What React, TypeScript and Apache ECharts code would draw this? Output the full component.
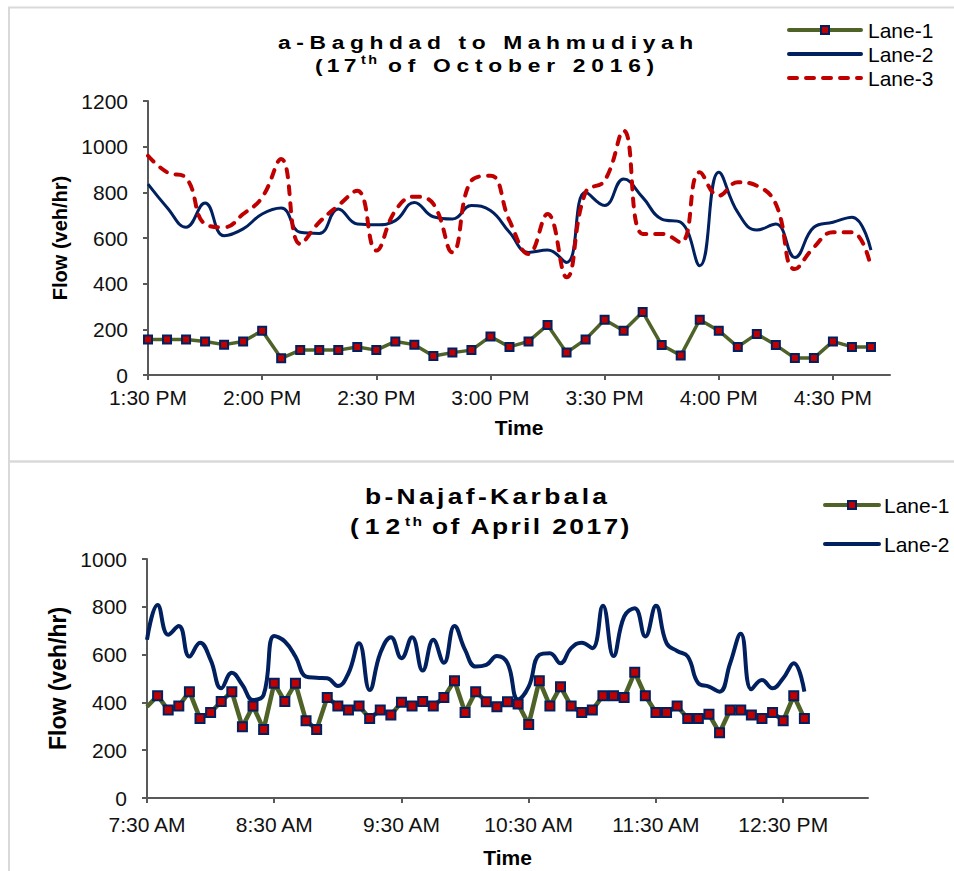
import React, { useEffect, useRef } from 'react';
import * as echarts from 'echarts';

const FONT = 'Liberation Sans, Arial, sans-serif';
const TITLE_FONT = 'Liberation Sans';

// ---------- Chart a: Baghdad to Mahmudiyah, 1:30 PM - 4:40 PM, 5-minute counts ----------
const STEP_MIN = 5;
const aTickLabels = ['1:30 PM', '2:00 PM', '2:30 PM', '3:00 PM', '3:30 PM', '4:00 PM', '4:30 PM'];
const aTickStepMin = 30;
const aAxisMaxMin = 195; // axis runs to 4:45 PM
const aLane1 = [155, 155, 155, 147, 133, 147, 194, 73, 109, 109, 109, 123, 109, 147, 133, 83, 98, 109, 169, 123,
  147, 219, 98, 156, 242, 194, 276, 131, 85, 242, 194, 123, 180, 131, 74, 74, 147, 123, 123];
const aLane2 = [836, 734, 647, 753, 610, 640, 705, 731, 625, 620, 727, 661, 658, 676, 756, 693, 683, 742, 720, 625,
  537, 547, 493, 800, 742, 858, 778, 683, 669, 479, 888, 712, 635, 661, 515, 647, 669, 691, 547];
const aLane3 = [960, 888, 863, 661, 647, 705, 778, 946, 574, 669, 742, 807, 545, 720, 781, 749, 537, 851, 873, 676,
  530, 705, 428, 800, 851, 1070, 618, 618, 581, 888, 785, 844, 829, 749, 464, 559, 625, 625, 472];

// ---------- Chart b: Najaf-Karbala, 7:30 AM - 12:40 PM, 5-minute counts ----------
const bTickLabels = ['7:30 AM', '8:30 AM', '9:30 AM', '10:30 AM', '11:30 AM', '12:30 PM'];
const bTickStepMin = 60;
const bAxisMaxMin = 340; // axis runs to 1:10 PM
const bLane1 = [382, 428, 368, 385, 445, 333, 358, 404, 445, 298, 385, 287, 480, 404, 480, 323, 287, 421, 385, 368,
  385, 333, 368, 347, 401, 385, 404, 385, 421, 491, 358, 445, 403, 382, 403, 393, 308, 491, 385, 466,
  385, 358, 368, 428, 428, 421, 526, 428, 358, 358, 385, 333, 333, 350, 273, 368, 368, 347, 333, 358,
  323, 428, 333];
const bLane2 = [662, 808, 683, 720, 592, 650, 578, 459, 524, 473, 410, 431, 678, 655, 592, 508, 503, 501, 469, 522,
  648, 452, 606, 673, 585, 673, 533, 662, 566, 720, 620, 550, 557, 594, 564, 413, 466, 599, 606, 564,
  627, 650, 627, 804, 594, 759, 794, 676, 804, 648, 615, 592, 480, 466, 445, 564, 687, 455, 494, 459,
  501, 564, 445];

const GREEN = '#4F6228';
const NAVY = '#002060';
const RED = '#C00000';
const AXIS = '#595959';

const toPairs = (vals: number[], hideFirstMarker = false) =>
  vals.map((v, i) => (hideFirstMarker && i === 0 ? { value: [i * STEP_MIN, v], symbolSize: 0 } : [i * STEP_MIN, v]));
const ticks = (labels: string[], step: number) => labels.map((_, i) => i * step);

function xAxisFor(gridIndex: number, labels: string[], step: number, max: number, nameGap: number, labelMargin: number) {
  const vals = ticks(labels, step);
  return {
    type: 'value',
    gridIndex,
    min: 0,
    max,
    name: 'Time',
    nameLocation: 'middle',
    nameGap,
    nameTextStyle: { fontFamily: FONT, fontWeight: 'bold', fontSize: 21, color: '#000' },
    axisLine: { show: true, lineStyle: { color: AXIS, width: 2 } },
    axisTick: { show: true, length: 5, customValues: vals, lineStyle: { color: AXIS, width: 2 } },
    axisLabel: {
      customValues: vals,
      margin: labelMargin,
      fontFamily: FONT,
      fontSize: 21,
      lineHeight: 16,
      color: '#111',
      formatter: (v: number) => labels[Math.round(v / step)] ?? '',
    },
    splitLine: { show: false },
  };
}

function yAxisFor(gridIndex: number, max: number, nameSize: number) {
  return {
    type: 'value',
    gridIndex,
    min: 0,
    max,
    interval: 200,
    name: 'Flow (veh/hr)',
    nameLocation: 'middle',
    nameRotate: 90,
    nameGap: 78,
    nameTextStyle: { fontFamily: FONT, fontWeight: 'bold', fontSize: nameSize, color: '#000' },
    axisLine: { show: true, lineStyle: { color: AXIS, width: 2 } },
    axisTick: { show: true, length: 5, lineStyle: { color: AXIS, width: 2 } },
    axisLabel: {
      margin: 20,
      fontFamily: FONT,
      fontSize: 21,
      lineHeight: 16,
      color: '#111',
      formatter: (v: number) => String(v),
    },
    splitLine: { show: false },
  };
}

function lane1Series(idx: number, data: number[], size: number, width: number, hideFirst: boolean) {
  return {
    name: 'Lane-1',
    type: 'line',
    xAxisIndex: idx,
    yAxisIndex: idx,
    data: toPairs(data, hideFirst),
    symbol: 'rect',
    symbolSize: size,
    showAllSymbol: true,
    itemStyle: { color: RED, borderColor: NAVY, borderWidth: 2 },
    lineStyle: { color: GREEN, width },
    z: 5,
  };
}

function smoothSeries(idx: number, name: string, data: number[], color: string, width: number, dashed: boolean) {
  return {
    name,
    type: 'line',
    xAxisIndex: idx,
    yAxisIndex: idx,
    data: toPairs(data),
    symbol: 'none',
    smooth: 0.45,
    itemStyle: { color: 'rgba(0,0,0,0)' },
    lineStyle: dashed
      ? { color, width, type: [8, 9], cap: 'round' }
      : { color, width },
    z: 3,
  };
}

function titleText(text: string, x: number, y: number, size: number, spacing: number) {
  return {
    type: 'text',
    x,
    y,
    scaleX: 1.2,
    silent: true,
    style: {
      text,
      fill: '#000',
      fontSize: size,
      fontWeight: 'bold',
      fontFamily: `${TITLE_FONT};letter-spacing:${spacing}px`,
      align: 'left',
      verticalAlign: 'middle',
    },
  };
}

export default function App() {
  const ref = useRef<HTMLDivElement>(null);

  useEffect(() => {
    if (!ref.current) return;
    const chart = echarts.init(ref.current, undefined, { renderer: 'svg' });
    chart.setOption({
      animation: false,
      backgroundColor: '#fff',
      grid: [
        { left: 148, top: 101, width: 742, height: 274 },
        { left: 147, top: 559, width: 721, height: 239 },
      ],
      xAxis: [
        xAxisFor(0, aTickLabels, aTickStepMin, aAxisMaxMin, 42, 14),
        xAxisFor(1, bTickLabels, bTickStepMin, bAxisMaxMin, 49, 18),
      ],
      yAxis: [yAxisFor(0, 1200, 20), yAxisFor(1, 1000, 23)],
      legend: [
        {
          data: ['Lane-1', 'Lane-2', 'Lane-3'],
          orient: 'vertical',
          left: 787,
          top: 18,
          padding: 0,
          itemWidth: 72,
          itemHeight: 10,
          itemGap: 0,
          selectedMode: false,
          lineStyle: { width: 4, cap: 'round' },
          textStyle: { fontFamily: FONT, fontSize: 21, color: '#000', lineHeight: 24, padding: [0, 0, 0, 2] },
        },
        {
          data: ['Lane-1', 'Lane-2'],
          orient: 'vertical',
          left: 823,
          top: 493,
          padding: 0,
          itemWidth: 54,
          itemHeight: 10,
          itemGap: 15,
          selectedMode: false,
          lineStyle: { width: 4, cap: 'round' },
          textStyle: { fontFamily: FONT, fontSize: 21, color: '#000', lineHeight: 24 },
        },
      ],
      graphic: [
        { type: 'rect', silent: true, shape: { x: 9, y: 7.5, width: 1000, height: 454 }, style: { fill: 'none', stroke: '#d9d9d9', lineWidth: 2 } },
        { type: 'rect', silent: true, shape: { x: 9, y: 461.5, width: 1000, height: 500 }, style: { fill: 'none', stroke: '#d9d9d9', lineWidth: 2 } },
        titleText('a-Baghdad to Mahmudiyah', 278, 42, 19, 4.7),
        titleText('(17', 315, 65, 19, 3.5),
        titleText('th', 361, 60, 12, 2),
        titleText('of October 2016)', 388, 65, 19, 4.8),
        titleText('b-Najaf-Karbala', 365, 496, 22, 2.8),
        titleText('(12', 350, 526, 22, 5),
        titleText('th', 405, 521, 13, 2),
        titleText('of April 2017)', 432, 526, 22, 2),
      ],
      series: [
        lane1Series(0, aLane1, 8, 3.5, false),
        smoothSeries(0, 'Lane-2', aLane2, NAVY, 3, false),
        smoothSeries(0, 'Lane-3', aLane3, RED, 4, true),
        lane1Series(1, bLane1, 9, 4.5, true),
        smoothSeries(1, 'Lane-2', bLane2, NAVY, 4, false),
      ],
    });
    return () => chart.dispose();
  }, []);

  return (
    <div
      ref={ref}
      style={{ position: 'fixed', left: 0, top: 0, width: 954, height: 871, background: '#fff' }}
    />
  );
}
